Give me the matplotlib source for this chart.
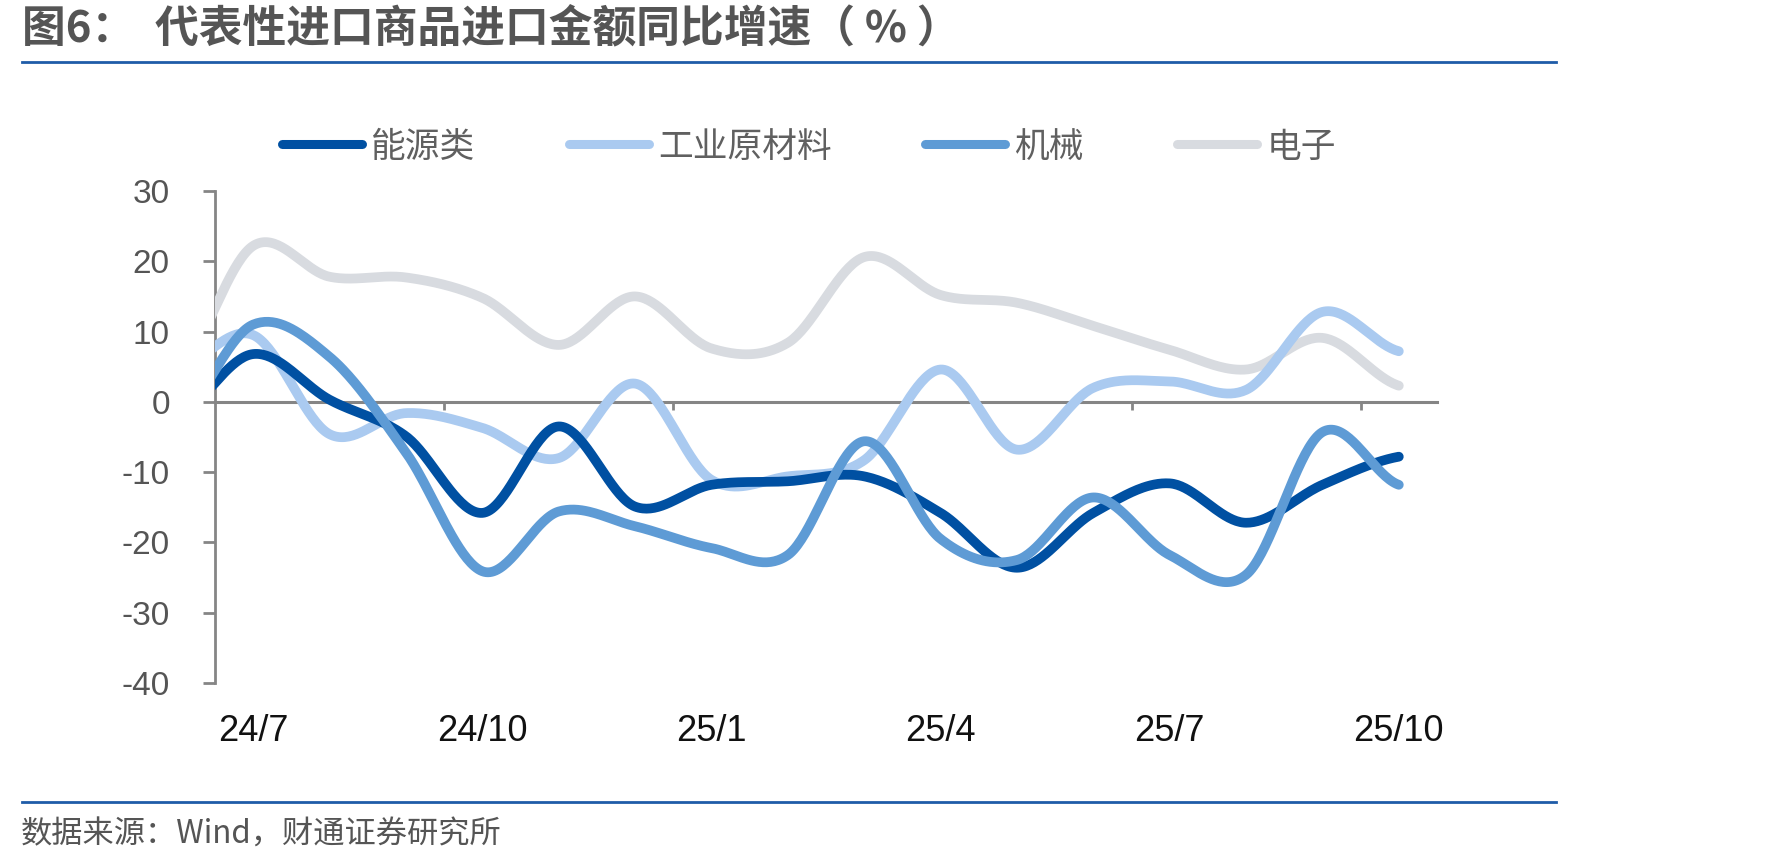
import numpy as np
import matplotlib
matplotlib.use("Agg")
import matplotlib.pyplot as plt
from matplotlib.lines import Line2D

plt.rcParams['font.family'] = ['Liberation Sans', 'Noto Sans CJK SC', 'DejaVu Sans']
plt.rcParams['axes.unicode_minus'] = False

# monthly data, 24/6 is only partly visible (clipped at the left axis)
months = ['24/6', '24/7', '24/8', '24/9', '24/10', '24/11', '24/12', '25/1', '25/2',
          '25/3', '25/4', '25/5', '25/6', '25/7', '25/8', '25/9', '25/10']
energy = [-2.2, 6.8, 0.3, -4.9, -15.8, -3.5, -14.9, -11.8, -11.3, -10.6, -15.8,
          -23.6, -15.8, -11.6, -17.2, -11.8, -7.8]
materials = [4.5, 9.5, -4.6, -1.6, -3.7, -8.0, 2.6, -11.1, -10.6, -8.3, 4.6,
             -6.8, 2.0, 2.9, 1.7, 12.8, 7.2]
machinery = [-2.6, 11.0, 6.4, -7.2, -24.1, -15.6, -17.7, -20.8, -21.8, -5.6, -19.5,
             -22.5, -13.6, -21.8, -24.6, -4.3, -11.8]
electronics = [4.0, 22.2, 17.8, 17.7, 14.8, 8.1, 15.0, 7.6, 8.4, 20.6, 15.2,
               14.1, 10.8, 7.4, 4.6, 9.1, 2.3]

series_names = ['能源类', '工业原材料', '机械', '电子']
series_colors = ['#0050A2', '#AACAF0', '#5E9BD5', '#D8DBE0']
series_z = [5, 4, 6, 3]
label_months = ['24/7', '24/10', '25/1', '25/4', '25/7', '25/10']

x = np.arange(len(months)) - 1  # 24/7 -> 0


def smooth(xs, ys, n=40):
    # Catmull-Rom style smoothing, similar to office "smoothed line"
    xs = np.asarray(xs, float)
    ys = np.asarray(ys, float)
    p = np.concatenate([[ys[0]], ys, [ys[-1]]])
    out_x, out_y = [], []
    for i in range(len(ys) - 1):
        y0, y1, y2, y3 = p[i], p[i + 1], p[i + 2], p[i + 3]
        m1 = (y2 - y0) / 2
        m2 = (y3 - y1) / 2
        t = np.linspace(0, 1, n, endpoint=False)
        h00 = 2 * t**3 - 3 * t**2 + 1
        h10 = t**3 - 2 * t**2 + t
        h01 = -2 * t**3 + 3 * t**2
        h11 = t**3 - t**2
        out_y.append(h00 * y1 + h10 * m1 + h01 * y2 + h11 * m2)
        out_x.append(xs[i] + t * (xs[i + 1] - xs[i]))
    out_x.append([xs[-1]])
    out_y.append([ys[-1]])
    return np.concatenate(out_x), np.concatenate(out_y)


fig = plt.figure(figsize=(17.71, 8.68), dpi=100)
ax = fig.add_axes([215 / 1771, 1 - 683 / 868, (1437 - 215) / 1771, (683 - 191) / 868])

handles = []
for name, vals, col, z in zip(series_names, [energy, materials, machinery, electronics],
                              series_colors, series_z):
    sx, sy = smooth(x, vals)
    ln, = ax.plot(sx, sy, color=col, lw=7, solid_capstyle='round', zorder=z, label=name)
    handles.append(ln)

gray = '#858585'
ax.set_xlim(-0.5, 15.5)
ax.set_ylim(-40, 30)
ax.set_yticks(np.arange(-40, 31, 10))
ax.tick_params(axis='y', direction='out', length=8.5, width=2, color=gray,
               labelsize=24, labelcolor='#555555', pad=24)

ax.set_xticks([months.index(m) - 1 for m in label_months])
ax.set_xticklabels(label_months)
ax.set_xticks([2.5, 5.5, 8.5, 11.5, 14.5], minor=True)
ax.tick_params(axis='x', which='major', bottom=True, top=False, length=0,
               labelsize=26, labelcolor='#111111', pad=22)
ax.tick_params(axis='x', which='minor', bottom=False, top=True, direction='in',
               length=6, width=2, color=gray)

ax.spines['top'].set_position(('data', 0))
ax.spines['top'].set_color(gray)
ax.spines['top'].set_linewidth(2.2)
ax.spines['left'].set_color(gray)
ax.spines['left'].set_linewidth(2)
ax.spines['right'].set_visible(False)
ax.spines['bottom'].set_visible(False)

leg = ax.legend(handles=handles, loc='center left', ncol=4,
                bbox_to_anchor=(282 / 1771, 1 - 147 / 868), bbox_transform=fig.transFigure,
                frameon=False, handlelength=2.3, handletextpad=0.26,
                columnspacing=2.7, borderpad=0, borderaxespad=0,
                prop={'family': ['Noto Sans CJK SC'], 'size': 25})
for t in leg.get_texts():
    t.set_color('#606060')
for lh in leg.get_lines():
    lh.set_linewidth(6.5)

# title, separators and source
fig.text(22 / 1771, 1 - 29 / 868, '图6：  代表性进口商品进口金额同比增速（ % ）',
         fontsize=31.5, fontweight='bold', color='#555555', va='center', ha='left',
         family=['Noto Sans CJK SC'])
fig.add_artist(Line2D([22 / 1771, 1556 / 1771], [1 - 62 / 868, 1 - 62 / 868],
                      color='#1F5CA8', lw=2, transform=fig.transFigure))
fig.add_artist(Line2D([22 / 1771, 1556 / 1771], [1 - 802 / 868, 1 - 802 / 868],
                      color='#1F5CA8', lw=2, transform=fig.transFigure))
fig.text(21 / 1771, 1 - 835 / 868, '数据来源：Wind，财通证券研究所',
         fontsize=22.5, color='#555555', va='center', ha='left',
         family=['Noto Sans CJK SC'])

fig.savefig('out.png', dpi=100)
